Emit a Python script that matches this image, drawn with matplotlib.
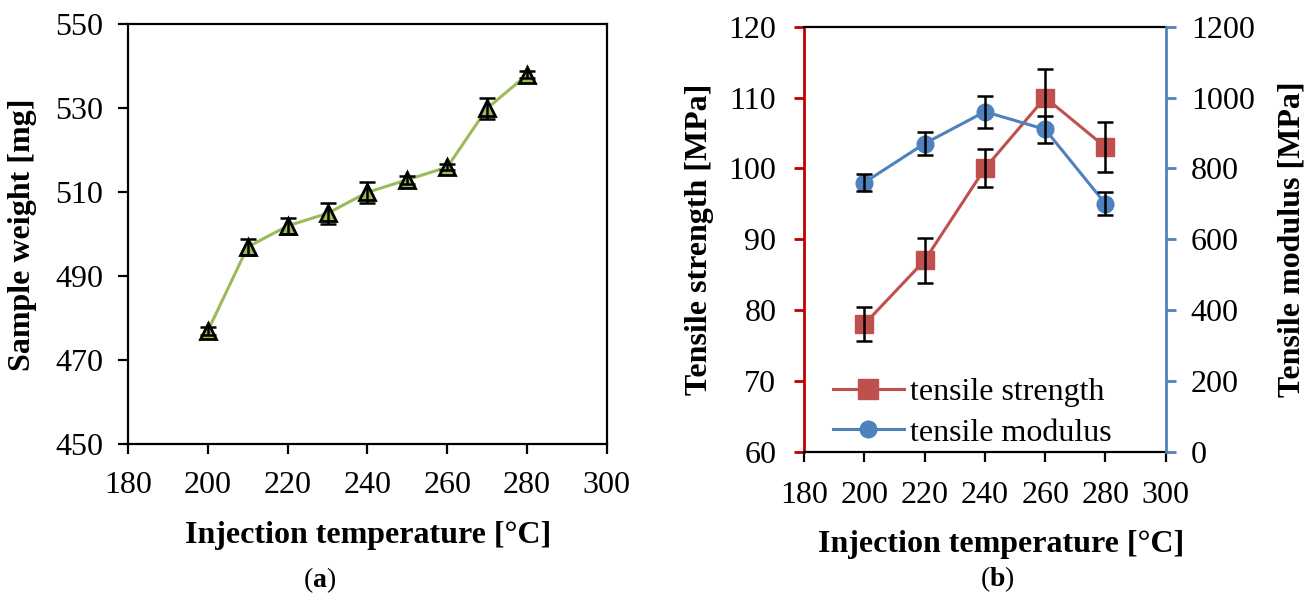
import matplotlib
matplotlib.use("Agg")
import matplotlib.pyplot as plt
from matplotlib.lines import Line2D

plt.rcParams['font.family'] = ['Liberation Serif', 'DejaVu Serif']
plt.rcParams['mathtext.fontset'] = 'custom'
plt.rcParams['mathtext.rm'] = 'Liberation Serif'
plt.rcParams['mathtext.bf'] = 'Liberation Serif:bold'

# ---- data (a) ----
temp_a = [200, 210, 220, 230, 240, 250, 260, 270, 280]
weight = [477, 497, 502, 505, 510, 513, 516, 530, 538]
weight_err = [1.0, 2.0, 2.0, 2.5, 2.5, 1.0, 0.7, 2.5, 0.8]

# ---- data (b) ----
temp_b = [200, 220, 240, 260, 280]
strength = [78, 87, 100, 110, 103]
strength_err = [2.4, 3.2, 2.7, 4.0, 3.5]
modulus = [760, 870, 960, 910, 700]
modulus_err = [25, 32, 45, 38, 33]

x_ticks = [180, 200, 220, 240, 260, 280, 300]
ya_ticks = [450, 470, 490, 510, 530, 550]
yb_ticks = [60, 70, 80, 90, 100, 110, 120]
yb2_ticks = [0, 200, 400, 600, 800, 1000, 1200]

GREEN = '#9BBB59'
RED = '#C0504D'
BLUE = '#4F81BD'
SPINE_RED = '#C00000'
FS = 23

fig = plt.figure(figsize=(13.14, 5.96), dpi=100)

# ---------------- (a) ----------------
ax = fig.add_axes([0.0974, 0.2545, 0.3645, 0.7047])
ax.plot(temp_a, weight, color=GREEN, lw=2.2, marker='^', ms=11,
        mfc=GREEN, mec='black', mew=2.0, zorder=3)
ax.errorbar(temp_a, weight, yerr=weight_err, fmt='none', ecolor='black',
            elinewidth=1.8, capsize=6, capthick=1.8, zorder=4)
ax.set_xlim(180, 300)
ax.set_ylim(450, 550)
ax.set_xticks(x_ticks)
ax.set_yticks(ya_ticks)
for s in ax.spines.values():
    s.set_linewidth(1.6)
    s.set_color('black')
ax.tick_params(axis='both', direction='out', length=7, width=1.6, labelsize=FS)
ax.tick_params(axis='x', pad=12)
ax.tick_params(axis='y', pad=11)
ax.set_xlabel('Injection temperature [°C]', fontsize=FS, fontweight='bold')
ax.set_ylabel('Sample weight [mg]', fontsize=FS, fontweight='bold')
ax.xaxis.set_label_coords(0.501, -0.182)
ax.yaxis.set_label_coords(-0.19, 0.5)

# ---------------- (b) ----------------
bx = fig.add_axes([0.6119, 0.2421, 0.2753, 0.7131])
bx2 = bx.twinx()
bx.plot(temp_b, strength, color=RED, lw=2.2, marker='s', ms=13,
        mfc=RED, mec=RED, zorder=3)
bx.errorbar(temp_b, strength, yerr=strength_err, fmt='none', ecolor='black',
            elinewidth=1.8, capsize=6, capthick=1.8, zorder=4)
bx2.plot(temp_b, modulus, color=BLUE, lw=2.2, marker='o', ms=12,
         mfc=BLUE, mec=BLUE, zorder=3)
bx2.errorbar(temp_b, modulus, yerr=modulus_err, fmt='none', ecolor='black',
             elinewidth=1.8, capsize=6, capthick=1.8, zorder=4)

bx.set_xlim(180, 300)
bx.set_ylim(60, 120)
bx2.set_ylim(0, 1200)
bx.set_xticks(x_ticks)
bx.set_yticks(yb_ticks)
bx2.set_yticks(yb2_ticks)

for s in ['top', 'bottom']:
    bx.spines[s].set_color('black')
    bx.spines[s].set_linewidth(1.6)
bx.spines['left'].set_color(SPINE_RED)
bx.spines['left'].set_linewidth(2.0)
bx.spines['right'].set_visible(False)
for s in ['top', 'bottom', 'left']:
    bx2.spines[s].set_visible(False)
bx2.spines['right'].set_color(BLUE)
bx2.spines['right'].set_linewidth(2.0)

bx.tick_params(axis='x', direction='out', length=7, width=1.6, labelsize=FS, pad=14, colors='black')
bx.tick_params(axis='y', direction='out', length=7, width=2.0, labelsize=FS, pad=13,
               color=SPINE_RED, labelcolor='black')
bx2.tick_params(axis='y', direction='out', length=7, width=2.0, labelsize=FS, pad=11,
                color=BLUE, labelcolor='black')

bx.set_xlabel('Injection temperature [°C]', fontsize=FS, fontweight='bold')
bx.set_ylabel('Tensile strength [MPa]', fontsize=FS, fontweight='bold')
bx2.set_ylabel('Tensile modulus [MPa]', fontsize=FS, fontweight='bold')
bx.xaxis.set_label_coords(0.545, -0.184)
bx.yaxis.set_label_coords(-0.249, 0.5)
bx2.yaxis.set_label_coords(1.31, 0.5)

handles = [
    Line2D([], [], color=RED, lw=2.2, marker='s', ms=14, mfc=RED, mec=RED),
    Line2D([], [], color=BLUE, lw=2.2, marker='o', ms=12, mfc=BLUE, mec=BLUE),
]
bx2.legend(handles, ['tensile strength', 'tensile modulus'], loc='lower left',
           bbox_to_anchor=(0.019, -0.043), frameon=False, fontsize=FS,
           handlelength=2.2, handletextpad=0.2, labelspacing=0.35, borderpad=0.2)

fig.text(320 / 1314, 1 - 580 / 596, r'($\mathbf{a}$)', fontsize=20, ha='center', va='center')
fig.text(997 / 1314, 1 - 579 / 596, r'($\mathbf{b}$)', fontsize=20, ha='center', va='center')

fig.savefig('out.png', dpi=100)
